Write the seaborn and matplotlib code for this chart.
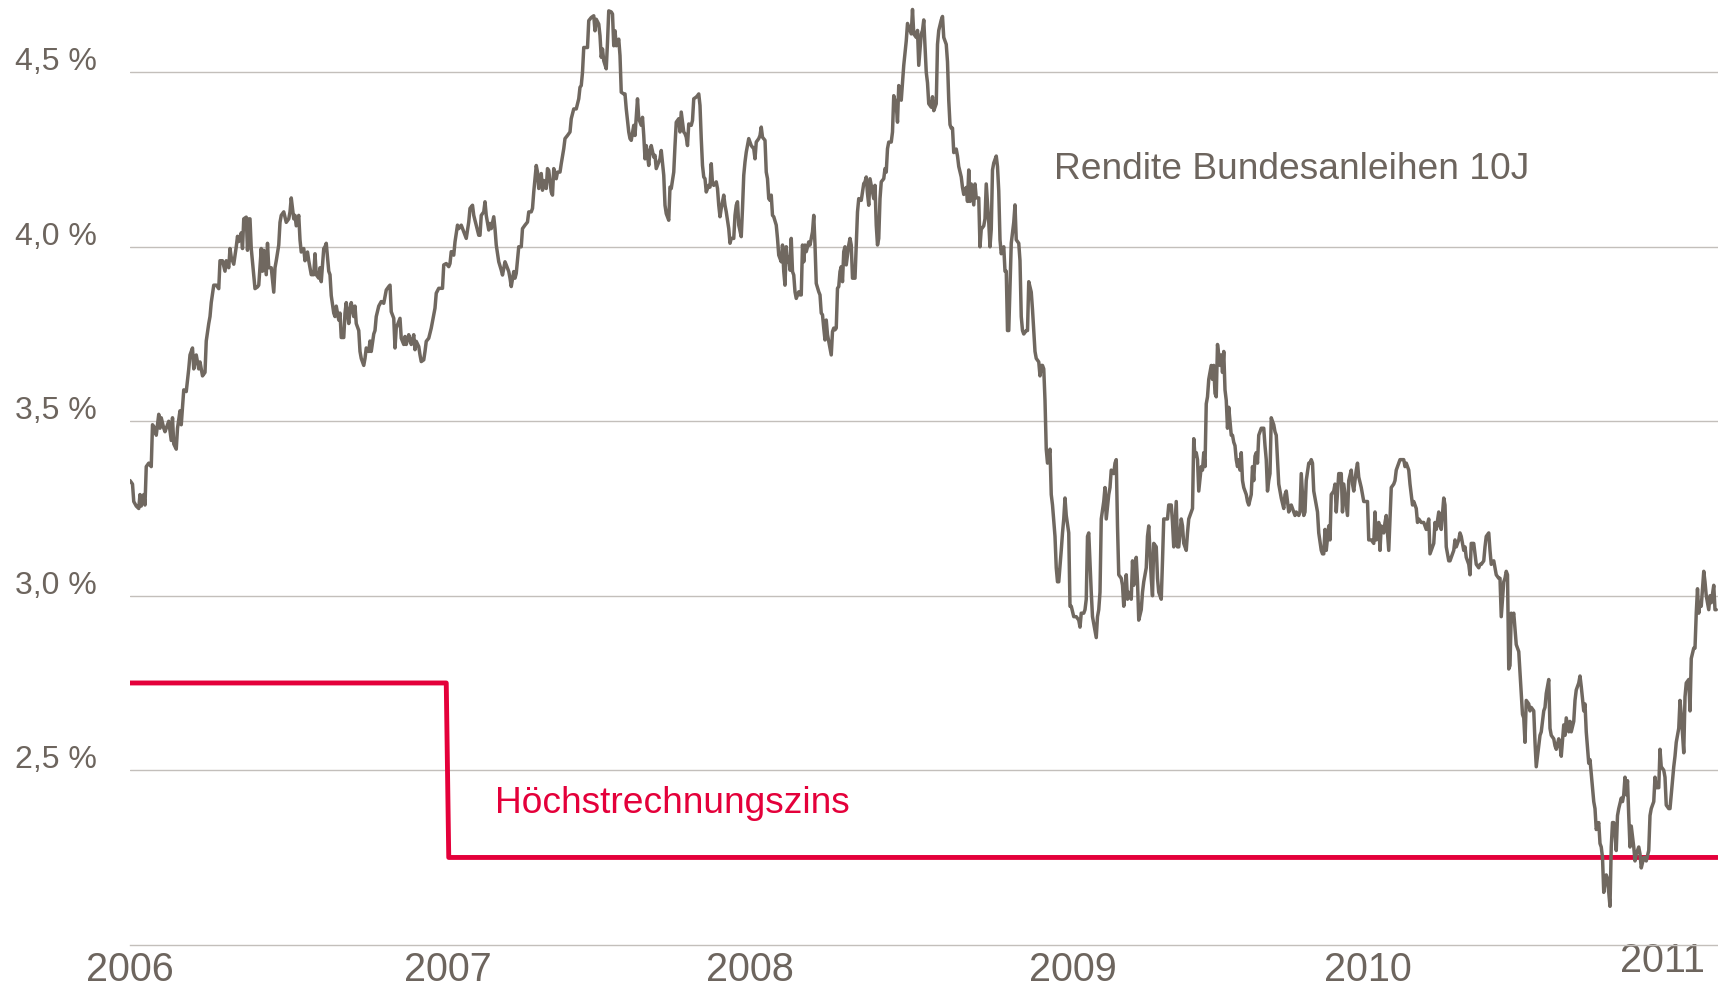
import matplotlib
matplotlib.use("Agg")
import matplotlib.pyplot as plt
import matplotlib.transforms as mtransforms
import seaborn as sns
import pandas as pd

sns.set_theme(style="white")
plt.rcParams['font.family'] = ['Liberation Sans', 'DejaVu Sans']

TEXT_GREY = '#6d655e'
LINE_GREY = '#706860'
RED = '#e4003a'
GRID = '#c3bfbb'

# Rendite Bundesanleihen 10J: (trading day since 2006-01-02, yield in %)
seg_2006 = [(0,3.33),(2,3.32),(3,3.27),(5,3.257),(7,3.25),(8,3.29),(9,3.257),(11,3.29),(12,3.26),(13,3.37),
    (15,3.38),(17,3.37),(18,3.49),(20,3.48),(21,3.46),(23,3.52),(24,3.48),(25,3.51),(27,3.48),(28,3.47),
    (31,3.50),(33,3.445),(34,3.51),(35,3.435),(37,3.42),(38,3.48),(40,3.53),(41,3.49),(43,3.59),(45,3.585),
    (47,3.65),(48,3.69),(50,3.71),(51,3.65),(53,3.69),(55,3.65),(56,3.67),(58,3.63),(60,3.64),(61,3.73),
    (63,3.78),(64,3.80),(65,3.84),(67,3.89),(69,3.89),(71,3.88),(72,3.96),(74,3.96),(76,3.93),(77,3.96),
    (79,3.94),(80,3.995),(81,3.97),(83,3.95),(85,4.0),(86,4.03),(87,4.015),(89,4.04),(90,3.995),(91,4.08),
    (93,4.085),(94,3.99),(95,4.08),(96,4.08),(97,3.995),(99,3.92),(100,3.88),(102,3.885),(103,3.89),(105,3.995),
    (106,3.93),(107,3.99),(109,3.92),(110,4.01),(111,3.94),(113,3.94),(115,3.87),(116,3.94),(117,3.96),(119,4.005),
    (120,4.07),(121,4.09),(123,4.10),(125,4.07),(127,4.08),(128,4.10),(129,4.14),(131,4.08),(132,4.09),(133,4.06),
    (135,4.09),(136,4.02),(137,3.985),(139,3.995),(140,3.96),(142,3.985),(143,3.96),(145,3.92),(147,3.92),(148,3.98),
    (149,3.92),(151,3.91),(152,3.94),(153,3.90),(155,3.995),(156,4.0),(157,4.01),(159,3.93),(160,3.92),(161,3.86),
    (163,3.81),(164,3.80),(165,3.83),(167,3.79),(168,3.81),(169,3.74),(171,3.74),(172,3.81),(173,3.84),(175,3.78),
    (176,3.82),(177,3.84),(179,3.80),(180,3.83),(181,3.78),(183,3.76),(184,3.70),(185,3.68),(187,3.66),(188,3.68),
    (189,3.71),(191,3.70),(192,3.73),(193,3.70),(195,3.75),(196,3.76),(197,3.80),(199,3.83)]

seg_2007 = [(201,3.843),(203,3.838),(205,3.876),(207,3.886),(208,3.89),(209,3.814),(211,3.795),(212,3.71),
    (213,3.767),(215,3.786),(216,3.795),(217,3.738),(219,3.72),(220,3.743),(221,3.72),(223,3.748),(224,3.733),
    (225,3.72),(227,3.748),(228,3.705),(229,3.729),(231,3.714),(232,3.69),(233,3.671),(235,3.676),(236,3.70),
    (237,3.729),(239,3.738),(241,3.767),(243,3.805),(244,3.824),(245,3.867),(247,3.881),(249,3.881),(250,3.881),
    (251,3.948),(253,3.952),(255,3.943),(256,3.952),(257,3.986),(259,3.976),(260,4.014),(262,4.062),(263,4.052),
    (265,4.062),(267,4.043),(269,4.024),(271,4.071),(272,4.11),(274,4.119),(275,4.09),(277,4.062),(279,4.033),
    (280,4.033),(281,4.09),(283,4.10),(284,4.129),(285,4.09),(287,4.048),(288,4.067),(289,4.052),(291,4.086),
    (292,4.052),(293,4.005),(295,3.957),(297,3.933),(298,3.919),(300,3.957),(301,3.948),(303,3.929),(304,3.91),
    (305,3.886),(307,3.929),(308,3.91),(309,3.924),(311,4.0),(313,4.0),(314,4.052),(316,4.062),(318,4.071),
    (319,4.10),(321,4.10),(322,4.11),(323,4.157),(325,4.233),(326,4.214),(327,4.167),(329,4.21),(330,4.162),
    (331,4.19),(333,4.167),(334,4.224),(335,4.219),(337,4.157),(338,4.148),(339,4.224),(341,4.195),(342,4.214),
    (344,4.214),(345,4.238),(347,4.281),(348,4.31),(350,4.319),(352,4.329),(353,4.367),(355,4.395),(357,4.395),
    (359,4.424),(360,4.457),(361,4.462),(362,4.5),(363,4.571),(365,4.571),(366,4.571),(367,4.648),(369,4.657),
    (371,4.662),(372,4.619),(373,4.652),(375,4.638),(376,4.605),(377,4.543),(378,4.567),(379,4.533),(381,4.51),
    (382,4.586),(383,4.676),(385,4.673),(386,4.667),(387,4.576),(388,4.619),(389,4.576),(391,4.595),(392,4.548),
    (393,4.443),(395,4.438),(396,4.438),(397,4.395),(399,4.329),(400,4.31),(401,4.305),(403,4.348),(404,4.319),
    (406,4.424),(407,4.367),(409,4.348),(410,4.371),(411,4.319),(412,4.252),(413,4.29),(415,4.233),(416,4.276),
    (417,4.29),(419,4.257),(420,4.262),(421,4.224),(423,4.243),(424,4.252),(425,4.276),(427,4.205),(428,4.119),
    (429,4.095),(431,4.076),(432,4.171),(433,4.167),(435,4.214),(436,4.29),(437,4.357),(439,4.367),(440,4.329),
    (441,4.386),(443,4.329),(444,4.324),(445,4.314),(446,4.29),(447,4.352),(449,4.348),(450,4.362),(451,4.424),
    (453,4.429),(454,4.433),(455,4.438),(456,4.405),(457,4.31),(458,4.233),(459,4.2),(460,4.195),(461,4.157),
    (463,4.176),(464,4.171),(465,4.238),(466,4.181),(467,4.176),(469,4.186),(470,4.167),(471,4.119),(472,4.086),
    (473,4.11),(475,4.148),(476,4.119),(477,4.10),(479,4.052),(480,4.01),(481,4.024),(483,4.024),(484,4.09),
    (485,4.119),(486,4.129),(487,4.062),(489,4.029),(490,4.11),(491,4.205),(492,4.243),(493,4.271),(495,4.31),
    (496,4.3),(497,4.29),(499,4.281),(500,4.252),(501,4.3),(503,4.31)]

seg_2008 = [(504,4.319),(505,4.343),(506,4.314),(508,4.305),(509,4.214),(510,4.195),(511,4.138),(512,4.133),
    (513,4.148),(514,4.09),(515,4.086),(517,4.062),(518,4.024),(519,3.976),(521,3.957),(522,4.005),(523,3.929),
    (524,3.89),(525,4.0),(526,3.957),(527,3.971),(528,3.933),(529,4.024),(530,3.929),(531,3.919),(532,3.871),
    (533,3.852),(535,3.871),(536,3.862),(537,3.862),(538,4.005),(539,3.957),(540,4.005),(541,3.986),(543,4.014),
    (544,4.005),(545,4.024),(546,4.043),(547,4.09),(548,4.005),(549,3.895),(551,3.871),(552,3.862),(553,3.81),
    (554,3.805),(555,3.767),(556,3.733),(557,3.79),(558,3.748),(559,3.729),(561,3.69),(562,3.757),(563,3.767),
    (564,3.762),(565,3.767),(566,3.881),(567,3.886),(568,3.929),(569,3.943),(570,3.9),(571,3.986),(572,4.0),
    (573,3.948),(575,4.005),(576,4.024),(577,4.005),(578,3.91),(579,3.91),(580,3.91),(581,4.005),(582,4.10),
    (583,4.138),(585,4.133),(586,4.157),(587,4.181),(588,4.186),(589,4.2),(590,4.152),(591,4.119),(592,4.195),
    (593,4.176),(595,4.138),(596,4.176),(597,4.062),(598,4.005),(599,4.024),(600,4.138),(601,4.186),(603,4.195),
    (604,4.224),(605,4.214),(606,4.281),(607,4.3),(609,4.3),(610,4.329),(611,4.433),(613,4.405),(614,4.357),
    (615,4.462),(617,4.42),(618,4.47),(619,4.52),(621,4.59),(622,4.64),(623,4.63),(625,4.61),(626,4.68),
    (627,4.61),(629,4.60),(630,4.62),(631,4.52),(633,4.61),(634,4.62),(635,4.65),(637,4.50),(638,4.47),(639,4.41),
    (641,4.40),(642,4.43),(643,4.39),(645,4.41),(646,4.58),(647,4.62),(649,4.65),(650,4.66),(651,4.60),(653,4.58),
    (654,4.53),(655,4.42),(656,4.35),(657,4.34),(658,4.34),(659,4.27),(661,4.28),(662,4.26),(663,4.23),(665,4.20),
    (666,4.17),(667,4.15),(669,4.17),(670,4.13),(671,4.22),(672,4.13),(673,4.18),(675,4.12),(676,4.18),(677,4.14),
    (679,4.14),(680,4.0),(681,4.05),(683,4.06),(684,4.08),(685,4.18),(687,4.07),(688,4.0),(689,4.05),(690,4.22),
    (691,4.24),(693,4.26),(694,4.23),(695,4.16),(696,4.02),(697,3.98),(699,4.0),(700,3.93),(701,3.93),(702,3.76),
    (703,3.76),(705,4.01),(706,4.04),(707,4.07),(708,4.12),(709,4.02),(711,4.01),(712,3.96),(713,3.80),(714,3.76),
    (715,3.75),(717,3.76),(718,3.76),(719,3.90),(721,3.87),(722,3.82),(723,3.76),(724,3.70),(725,3.68),(727,3.67),
    (728,3.63),(729,3.66),(730,3.66),(731,3.65),(732,3.56),(733,3.42),(734,3.38),(736,3.42),(737,3.29),(738,3.26),
    (740,3.17),(741,3.08),(742,3.04),(743,3.04),(745,3.13),(746,3.18),(747,3.22),(748,3.28),(749,3.23),(751,3.18),
    (752,2.97),(753,2.97)]

seg_2009 = [(755,2.94),(756,2.94),(757,2.94),(759,2.93),(760,2.91),(761,2.95),(763,2.95),(764,2.96),(765,2.99),
    (766,3.17),(767,3.18),(769,3.01),(770,2.94),(771,2.92),(773,2.88),(774,2.94),(775,2.96),(776,3.01),(777,3.22),
    (779,3.27),(780,3.31),(781,3.22),(783,3.29),(784,3.31),(785,3.36),(787,3.35),(788,3.38),(789,3.39),(790,3.20),
    (791,3.06),(793,3.05),(794,3.03),(795,2.97),(797,3.06),(798,2.99),(799,3.01),(801,2.99),(802,3.10),(803,3.03),
    (805,3.11),(806,3.04),(807,2.93),(809,2.96),(810,3.01),(811,3.04),(813,3.08),(814,3.17),(815,3.20),(817,3.05),
    (818,3.0),(819,3.15),(821,3.14),(822,3.05),(823,3.01),(825,2.99),(826,3.10),(827,3.22),(829,3.22),(830,3.22),
    (831,3.26),(833,3.26),(834,3.21),(835,3.14),(837,3.27),(838,3.14),(839,3.14),(841,3.22),(842,3.20),(843,3.15),
    (845,3.13),(846,3.18),(847,3.22),(849,3.24),(850,3.25),(851,3.45),(852,3.40),(853,3.41),(854,3.39),(855,3.30),
    (857,3.37),(858,3.36),(859,3.41),(860,3.37),(861,3.55),(862,3.57),(863,3.62),(865,3.66),(866,3.62),(867,3.66),
    (868,3.58),(869,3.57),(870,3.72),(871,3.69),(872,3.66),(873,3.69),(874,3.64),(875,3.70),(876,3.59),(877,3.56),
    (878,3.48),(879,3.54),(881,3.46),(882,3.46),(883,3.44),(884,3.43),(885,3.39),(886,3.37),(887,3.39),(888,3.36),
    (889,3.41),(890,3.33),(891,3.31),(893,3.29),(894,3.27),(895,3.26),(897,3.29),(898,3.37),(899,3.33),(900,3.40),
    (901,3.41),(902,3.38),(903,3.46),(905,3.48),(906,3.48),(907,3.48),(908,3.43),(909,3.39),(910,3.30),(911,3.33),
    (912,3.35),(913,3.51),(915,3.49),(916,3.47),(917,3.46),(919,3.32),(920,3.30),(921,3.28),(923,3.25),(924,3.29),
    (925,3.30),(927,3.24),(928,3.25),(929,3.26),(931,3.24),(932,3.23),(933,3.24),(935,3.23),(936,3.24),(937,3.35),
    (939,3.23),(940,3.24),(941,3.33),(943,3.38),(944,3.38),(945,3.39),(946,3.38),(947,3.30),(949,3.26),(950,3.24),
    (951,3.18),(953,3.13),(954,3.12),(955,3.12),(956,3.19),(957,3.13),(959,3.20),(960,3.16),(961,3.29),(963,3.30),
    (964,3.32),(965,3.24),(967,3.35),(968,3.35),(969,3.35),(970,3.24),(971,3.32),(972,3.29),(974,3.23),(975,3.33),
    (977,3.36),(978,3.32),(979,3.30),(981,3.36),(982,3.38),(983,3.34),(985,3.31),(986,3.29),(987,3.27),(989,3.27),
    (990,3.27),(991,3.16),(992,3.16),(993,3.16),(995,3.15),(996,3.24),(997,3.16),(999,3.21),(1000,3.13),(1001,3.20),
    (1003,3.18),(1004,3.21),(1005,3.23)]

seg_2010 = [(1007,3.13),(1008,3.22),(1009,3.31),(1011,3.32),(1012,3.33),(1013,3.36),(1015,3.38),(1016,3.39),
    (1017,3.39),(1019,3.39),(1020,3.37),(1021,3.38),(1023,3.36),(1024,3.32),(1025,3.29),(1026,3.26),(1027,3.27),
    (1029,3.25),(1030,3.21),(1031,3.22),(1033,3.21),(1035,3.21),(1036,3.20),(1037,3.19),(1039,3.22),(1040,3.12),
    (1041,3.13),(1043,3.15),(1044,3.21),(1045,3.19),(1047,3.24),(1048,3.20),(1049,3.19),(1051,3.28),(1052,3.26),
    (1053,3.14),(1055,3.10),(1056,3.10),(1057,3.11),(1059,3.13),(1060,3.16),(1061,3.14),(1063,3.16),(1064,3.18),
    (1065,3.17),(1067,3.13),(1068,3.14),(1069,3.11),(1071,3.09),(1072,3.06),(1073,3.15),(1075,3.15),(1076,3.12),
    (1077,3.09),(1079,3.08),(1080,3.09),(1081,3.09),(1083,3.10),(1084,3.14),(1085,3.17),(1087,3.18),(1088,3.13),
    (1089,3.09),(1091,3.10),(1092,3.08),(1093,3.06),(1095,3.05),(1096,3.05),(1097,2.94),(1099,3.04),(1100,3.05),
    (1101,3.07),(1102,3.06),(1103,2.79),(1104,2.80),(1105,2.95),(1106,2.94),(1107,2.95),(1109,2.86),(1110,2.85),
    (1111,2.84),(1113,2.72),(1114,2.66),(1115,2.65),(1116,2.58),(1117,2.70),(1119,2.69),(1120,2.67),(1121,2.68),
    (1123,2.67),(1124,2.58),(1125,2.51),(1127,2.57),(1128,2.60),(1129,2.61),(1131,2.67),(1132,2.68),(1133,2.72),
    (1135,2.76),(1136,2.62),(1137,2.60),(1139,2.59),(1140,2.57),(1141,2.56),(1143,2.59),(1144,2.57),(1145,2.54),
    (1147,2.63),(1148,2.60),(1149,2.65),(1151,2.61),(1152,2.64),(1153,2.61),(1155,2.64),(1156,2.70),(1157,2.73),
    (1159,2.75),(1160,2.77),(1161,2.74),(1163,2.67),(1164,2.69),(1165,2.61),(1167,2.52),(1168,2.53),(1169,2.49),
    (1171,2.41),(1172,2.39),(1173,2.33),(1175,2.35),(1176,2.29),(1177,2.28),(1178,2.25),(1179,2.15),(1181,2.20),
    (1182,2.19),(1183,2.15),(1184,2.11),(1185,2.28),(1186,2.35),(1187,2.35),(1188,2.32),(1189,2.27),(1190,2.37),
    (1191,2.39),(1193,2.42),(1194,2.41),(1195,2.43),(1196,2.48),(1197,2.43),(1198,2.47),(1199,2.37),(1200,2.28),
    (1201,2.34),(1203,2.28),(1204,2.24),(1205,2.26),(1207,2.28),(1208,2.26),(1209,2.22),(1211,2.25),(1212,2.25),
    (1213,2.24),(1215,2.27),(1216,2.37),(1217,2.39),(1219,2.41),(1220,2.48),(1221,2.45),(1223,2.45),(1224,2.56)]

seg_2011 = [(1225,2.51),(1227,2.50),(1228,2.48),(1229,2.40),(1231,2.39),(1232,2.39),(1233,2.43),(1235,2.51),
    (1236,2.54),(1237,2.58),(1239,2.62),(1240,2.70),(1241,2.66),(1243,2.55),(1244,2.71),(1245,2.75),(1247,2.76),
    (1248,2.67),(1249,2.82),(1251,2.85),(1252,2.85),(1253,2.95),(1254,3.02),(1255,2.95),(1256,2.98),(1257,2.97),
    (1259,3.07),(1260,3.04),(1261,3.00),(1263,2.96),(1264,3.00),(1265,2.98),(1267,3.03),(1268,2.96),(1269,2.96)]

# Höchstrechnungszins (step from 2.75 % to 2.25 % at the start of 2007)
rate_days = [0, 253, 255, 1270]
rate_values = [2.75, 2.75, 2.25, 2.25]

year_labels = ['2006', '2007', '2008', '2009', '2010', '2011']
year_tick_days = [0, 254, 496, 754, 990, 1226]
y_ticks = [2.5, 3.0, 3.5, 4.0, 4.5]
y_tick_labels = ['2,5 %', '3,0 %', '3,5 %', '4,0 %', '4,5 %']

segments = [seg_2006, seg_2007, seg_2008, seg_2009, seg_2010, seg_2011]
bund = pd.DataFrame([p for seg in segments for p in seg], columns=['day', 'rendite'])
hrz = pd.DataFrame({'day': rate_days, 'rendite': rate_values})

fig = plt.figure(figsize=(17.18, 9.87), dpi=100)
ax = fig.add_axes([130 / 1718, 41.3 / 987, 1587.5 / 1718, 942.2 / 987])

sns.lineplot(data=hrz, x='day', y='rendite', ax=ax, color=RED, linewidth=3.5,
             estimator=None, sort=False, zorder=2)
sns.lineplot(data=bund, x='day', y='rendite', ax=ax, color=LINE_GREY, linewidth=2.5,
             estimator=None, sort=False, zorder=3)

ax.set_xlim(0, 1270)
ax.set_ylim(2.0, 4.7)
ax.set_xlabel('')
ax.set_ylabel('')

for side in ['top', 'right', 'left']:
    ax.spines[side].set_visible(False)
ax.spines['bottom'].set_color(GRID)
ax.spines['bottom'].set_linewidth(1.0)

ax.set_yticks(y_ticks)
ax.set_yticklabels(y_tick_labels)
ax.set_xticks(year_tick_days)
ax.set_xticklabels(year_labels)
ax.yaxis.grid(True, color=GRID, linewidth=1.0)
ax.xaxis.grid(False)
ax.set_axisbelow(True)

ax.tick_params(axis='both', length=0)
ax.tick_params(axis='y', pad=24, labelsize=23, labelcolor=TEXT_GREY)
ax.tick_params(axis='x', pad=3.5, labelsize=28.5, labelcolor=TEXT_GREY)

up3 = mtransforms.ScaledTranslation(0, 0.03, fig.dpi_scale_trans)
for lab in ax.get_yticklabels():
    lab.set_verticalalignment('baseline')
    lab.set_transform(lab.get_transform() + up3)

last = ax.get_xticklabels()[-1]
last.set_transform(last.get_transform() + mtransforms.ScaledTranslation(0, 0.09, fig.dpi_scale_trans))

ax.text(739, 4.197, 'Rendite Bundesanleihen 10J', color=TEXT_GREY, fontsize=26.7,
        ha='left', va='baseline')
ax.text(292, 2.380, 'Höchstrechnungszins', color=RED, fontsize=26.7,
        ha='left', va='baseline')

fig.savefig('out.png', dpi=100)
